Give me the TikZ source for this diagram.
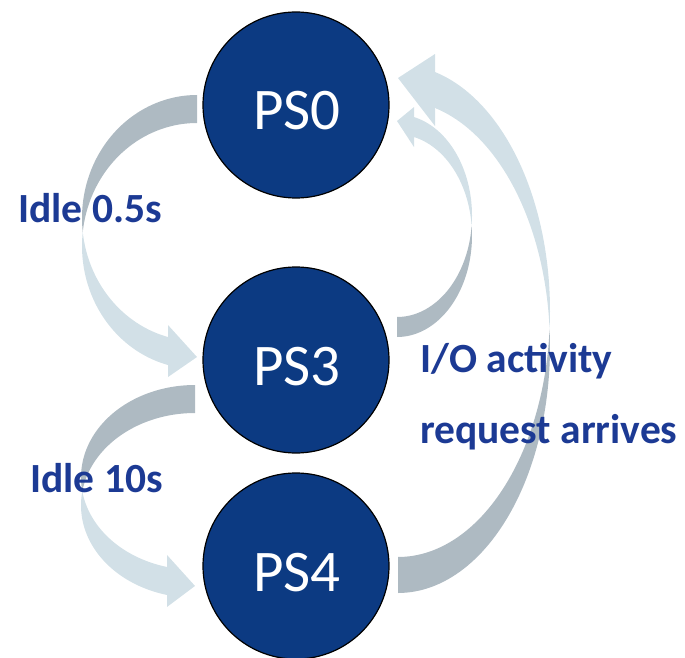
\documentclass[tikz,border=0pt]{standalone}
\usepackage{fontspec}
\setmainfont{Carlito}
\definecolor{circfill}{RGB}{12,58,130}
\definecolor{lblblue}{RGB}{28,58,148}
\definecolor{ribdark}{RGB}{174,186,194}
\definecolor{riblight}{RGB}{210,224,231}

% #1 x0, #2 centre y of first ellipse, #3 orientation (1 or -1), #4 x radius,
% #5 y radius, #6 band thickness, #7 head length, #8 head wing, #9 tip offset
\newcommand\ribbonarrow[9]{%
 \begin{scope}[shift={(#1,#2)},xscale=#3,yscale=#3]
  \pgfmathsetmacro\rbTh{acos(-(#7)/(#4))}
  \pgfmathsetmacro\rbSy{(#5)*sin(\rbTh)}
  \pgfmathsetmacro\rbAs{asin((#6)/(2*(#5)))}
  \pgfmathsetmacro\rbTa{180-\rbAs}
  \pgfmathsetmacro\rbTb{180+\rbAs}
  \fill[ribdark] plot[domain=270:\rbTa,samples=60] ({(#4)*cos(\x)},{(#5)*sin(\x)})
     -- plot[domain=\rbTb:270,samples=60] ({(#4)*cos(\x)},{(#6)+(#5)*sin(\x)}) -- cycle;
  \fill[riblight] plot[domain=\rbTb:\rbTh,samples=60] ({(#4)*cos(\x)},{(#6)+(#5)*sin(\x)})
     -- ({-(#7)},{\rbSy+(#6)+(#8)}) -- (0,{\rbSy+(#6)/2+(#9)}) -- ({-(#7)},{\rbSy-(#8)})
     -- plot[domain=\rbTh:\rbTa,samples=60] ({(#4)*cos(\x)},{(#5)*sin(\x)}) -- cycle;
 \end{scope}}

\tikzset{
  statecirc/.style={circle,fill=circfill,draw=black,line width=1.2pt,minimum size=186pt,inner sep=0pt},
  statetext/.style={text=white,font=\fontsize{59}{70}\selectfont,inner sep=0pt,anchor=base},
  lbl/.style={text=lblblue,font=\bfseries\fontsize{41.5}{48}\selectfont,inner sep=0pt,anchor=base west}
}

\begin{document}
\begin{tikzpicture}[x=1pt,y=-1pt]
\useasboundingbox (0,0) rectangle (685,658);
% ribbon arrows
\ribbonarrow{197}{218}{1}{115}{123}{28}{29}{12}{6}
\ribbonarrow{195}{477.4}{1}{114}{92.4}{28}{28}{12}{5}
\ribbonarrow{397}{235.7}{-1}{75}{101.3}{20}{17}{10}{6}
\ribbonarrow{398}{346.8}{-1}{152}{246.2}{36}{37}{18}{12}
% states
\node[statecirc] (ps0) at (296,105) {};
\node[statecirc] (ps3) at (296,360) {};
\node[statecirc] (ps4) at (296,566) {};
\node[statetext] (t0) at (297,130) {PS0};
\node[statetext] (t3) at (297,385) {PS3};
\node[statetext] (t4) at (297,591) {PS4};
% labels
\node[lbl] (l1) at (18,222) {Idle 0.5s};
\node[lbl] (l2) at (30,492) {Idle 10s};
\node[lbl] (l3) at (420,372) {I/O activity};
\node[lbl] (l4) at (420,443) {request arrives};
\end{tikzpicture}
\end{document}
